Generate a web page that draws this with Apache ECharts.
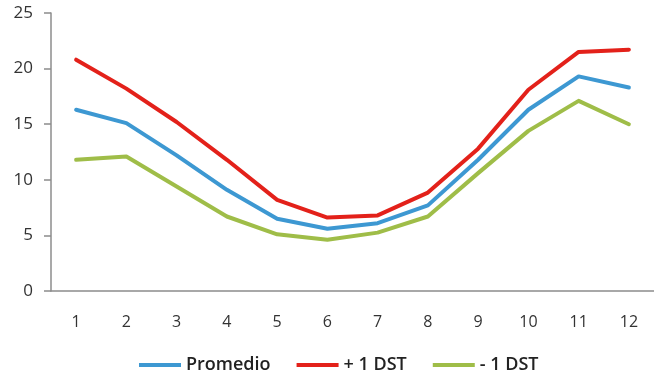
<!DOCTYPE html>
<html>
<head>
<meta charset="utf-8">
<script src="https://cdn.jsdelivr.net/npm/echarts@6/dist/echarts.min.js"></script>
<style>
  html, body { margin: 0; padding: 0; background: #fff; }
  #chart { width: 654px; height: 376px; }
</style>
</head>
<body>
<div id="chart"></div>
<script>
// Months 1..12
const months = ['1', '2', '3', '4', '5', '6', '7', '8', '9', '10', '11', '12'];

// Monthly mean and ±1 standard deviation bands
const promedio = [16.3, 15.1, 12.2, 9.1, 6.5, 5.6, 6.1, 7.7, 11.8, 16.3, 19.3, 18.3];
const masUnDst = [20.8, 18.2, 15.2, 11.8, 8.2, 6.6, 6.8, 8.85, 12.8, 18.1, 21.5, 21.7];
const menosUnDst = [11.8, 12.1, 9.4, 6.7, 5.1, 4.6, 5.25, 6.7, 10.6, 14.4, 17.1, 15.0];

// Y axis ticks
const yTicks = [0, 5, 10, 15, 20, 25];

const seriesDefs = [
  { name: 'Promedio', data: promedio, color: '#3d98d2' },
  { name: '+ 1 DST', data: masUnDst, color: '#e3211a' },
  { name: '- 1 DST', data: menosUnDst, color: '#9fbd48' }
];

const chart = echarts.init(document.getElementById('chart'), null, { renderer: 'canvas' });

chart.setOption({
  animation: false,
  backgroundColor: '#ffffff',
  textStyle: { fontFamily: 'Open Sans' },
  grid: { left: 51, right: -9, top: 13, bottom: 85, containLabel: false },
  legend: {
    bottom: -3,
    left: 134,
    itemWidth: 42,
    itemHeight: 4,
    itemGap: 26,
    icon: 'rect',
    textStyle: { fontSize: 18, color: '#222', fontFamily: 'Open Sans', fontWeight: 600 },
    data: seriesDefs.map(s => ({ name: s.name, itemStyle: { color: s.color } }))
  },
  xAxis: {
    type: 'category',
    data: months,
    boundaryGap: true,
    axisLine: { show: true, lineStyle: { color: '#8c8c8c', width: 1.5 } },
    axisTick: { show: false },
    axisLabel: { color: '#333', fontSize: 16, margin: 23 },
    splitLine: { show: false }
  },
  yAxis: {
    type: 'value',
    min: yTicks[0],
    max: yTicks[yTicks.length - 1],
    interval: 5,
    axisLine: { show: true, lineStyle: { color: '#8c8c8c', width: 1.5 } },
    axisTick: { show: true, length: 7, lineStyle: { color: '#8c8c8c', width: 1.5 } },
    axisLabel: { color: '#333', fontSize: 17, margin: 18 },
    splitLine: { show: false }
  },
  series: seriesDefs.map(s => ({
    name: s.name,
    type: 'line',
    data: s.data,
    showSymbol: false,
    symbol: 'none',
    lineStyle: { color: s.color, width: 4, join: 'round', cap: 'round' },
    itemStyle: { color: s.color }
  }))
});
</script>
</body>
</html>
